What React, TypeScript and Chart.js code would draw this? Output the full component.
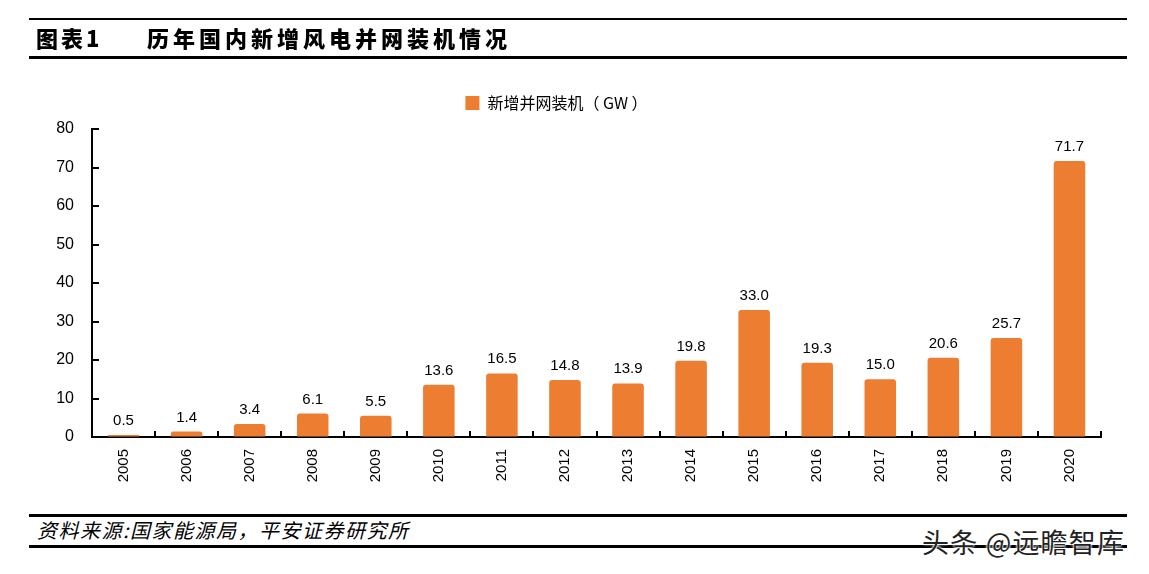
import React, { useEffect, useRef } from "react";
import { Chart, registerables } from "chart.js";

Chart.register(...registerables);

const categories = ["2005", "2006", "2007", "2008", "2009", "2010", "2011", "2012", "2013", "2014", "2015", "2016", "2017", "2018", "2019", "2020"];
const values = [0.5, 1.4, 3.4, 6.1, 5.5, 13.6, 16.5, 14.8, 13.9, 19.8, 33.0, 19.3, 15.0, 20.6, 25.7, 71.7];
const valueLabels = ["0.5", "1.4", "3.4", "6.1", "5.5", "13.6", "16.5", "14.8", "13.9", "19.8", "33.0", "19.3", "15.0", "20.6", "25.7", "71.7"];
const yMin = 0;
const yMax = 80;
const yStep = 10;
const seriesName = "新增并网装机（ GW ）";
const titleLabel = "图表1";
const titleText = "历年国内新增风电并网装机情况";
const sourceText = "资料来源:国家能源局，平安证券研究所";
const watermarkText = "头条 @远瞻智库";

const BAR_COLOR = "#ED7D31";
const FONT = "'Liberation Sans', Arial, 'Noto Sans CJK SC', sans-serif";
const CJK = "'Noto Sans CJK SC', 'Liberation Sans', sans-serif";

const decorPlugin = {
  id: "decor",
  beforeLayout(chart: any) {
    const lg = chart.legend;
    if (lg && !lg.__patched) {
      const orig = lg.fit.bind(lg);
      lg.fit = () => {
        orig();
        lg.height = 44;
      };
      lg.__patched = true;
    }
  },
  afterDatasetsDraw(chart: any) {
    const ctx = chart.ctx;
    const meta = chart.getDatasetMeta(0);
    const { left, bottom } = chart.chartArea;
    const ys = chart.scales.y;
    const xs = chart.scales.x;
    ctx.save();
    ctx.fillStyle = "#000";
    ctx.font = `15px ${FONT}`;
    ctx.textAlign = "center";
    ctx.textBaseline = "alphabetic";
    meta.data.forEach((bar: any, i: number) => {
      ctx.fillText(valueLabels[i], bar.x, bar.y - 10);
    });
    ctx.strokeStyle = "#000";
    ctx.lineWidth = 2;
    ys.ticks.forEach((t: any) => {
      const y = Math.round(ys.getPixelForValue(t.value));
      ctx.beginPath();
      ctx.moveTo(left, y);
      ctx.lineTo(left + 7, y);
      ctx.stroke();
    });
    const n = categories.length;
    for (let i = 0; i <= n; i++) {
      let x;
      if (i === 0) x = xs.left;
      else if (i === n) x = xs.right;
      else x = (xs.getPixelForValue(i - 1) + xs.getPixelForValue(i)) / 2;
      x = Math.round(x);
      ctx.beginPath();
      ctx.moveTo(x, bottom);
      ctx.lineTo(x, bottom - 6);
      ctx.stroke();
    }
    ctx.restore();
  },
};

export default function App() {
  const ref = useRef<HTMLCanvasElement | null>(null);

  useEffect(() => {
    if (!ref.current) return;
    const chart = new Chart(ref.current, {
      type: "bar",
      data: {
        labels: categories,
        datasets: [
          {
            label: seriesName,
            data: values,
            backgroundColor: BAR_COLOR,
            borderWidth: 0,
            borderRadius: 3,
            categoryPercentage: 1,
            barPercentage: 0.5,
          },
        ],
      },
      options: {
        responsive: false,
        animation: false,
        layout: { padding: { top: 85, left: 12, right: 48, bottom: 0 } },
        plugins: {
          legend: {
            display: true,
            position: "top",
            labels: {
              boxWidth: 14,
              boxHeight: 14,
              color: "#000",
              font: { size: 16, family: CJK },
              padding: 10,
            },
          },
          tooltip: { enabled: false },
        },
        scales: {
          x: {
            grid: { display: true, drawOnChartArea: false, drawTicks: false },
            border: { display: true, color: "#000", width: 2 },
            ticks: {
              color: "#000",
              font: { size: 15, family: FONT },
              minRotation: 90,
              maxRotation: 90,
              autoSkip: false,
              padding: 12,
            },
            afterFit: (s: any) => {
              s.height = 63;
            },
          },
          y: {
            min: yMin,
            max: yMax,
            grid: { display: true, drawOnChartArea: false, drawTicks: false },
            border: { display: true, color: "#000", width: 2 },
            ticks: {
              stepSize: yStep,
              color: "#000",
              font: { size: 16, family: FONT },
              padding: 18,
            },
            afterFit: (s: any) => {
              s.width = 80;
            },
          },
        },
      },
      plugins: [decorPlugin],
    });
    return () => chart.destroy();
  }, []);

  const line = (top: number, left: number, width: number, h: number) => (
    <div style={{ position: "absolute", top, left, width, height: h, background: "#000" }} />
  );

  return (
    <div style={{ position: "absolute", top: 0, left: 0, width: 1149, height: 574, background: "#fff", overflow: "hidden" }}>
      <canvas ref={ref} width={1149} height={500} style={{ position: "absolute", top: 0, left: 0, width: 1149, height: 500 }} />
      {line(18, 29, 1098, 2)}
      {line(56, 29, 1098, 3)}
      <div style={{ position: "absolute", top: 26, left: 36, fontFamily: CJK, fontWeight: 900, fontSize: 22, lineHeight: "22px", letterSpacing: 3, color: "#000", whiteSpace: "nowrap" }}>
        {titleLabel}
      </div>
      <div style={{ position: "absolute", top: 26, left: 147, fontFamily: CJK, fontWeight: 900, fontSize: 22, lineHeight: "22px", letterSpacing: 4, color: "#000", whiteSpace: "nowrap" }}>
        {titleText}
      </div>
      {line(514, 29, 1098, 3)}
      {line(545, 29, 1098, 3)}
      <div style={{ position: "absolute", top: 520, left: 37, fontFamily: CJK, fontStyle: "italic", fontSize: 20, lineHeight: "20px", letterSpacing: 1.5, color: "#000", whiteSpace: "nowrap" }}>
        {sourceText}
      </div>
      <div style={{ position: "absolute", top: 527, left: 922, fontFamily: CJK, fontSize: 27, lineHeight: "30px", letterSpacing: 1.2, color: "#222", whiteSpace: "nowrap", textShadow: "0 0 2px #fff, 0 0 2px #fff, 0 0 3px #fff" }}>
        {watermarkText}
      </div>
    </div>
  );
}
